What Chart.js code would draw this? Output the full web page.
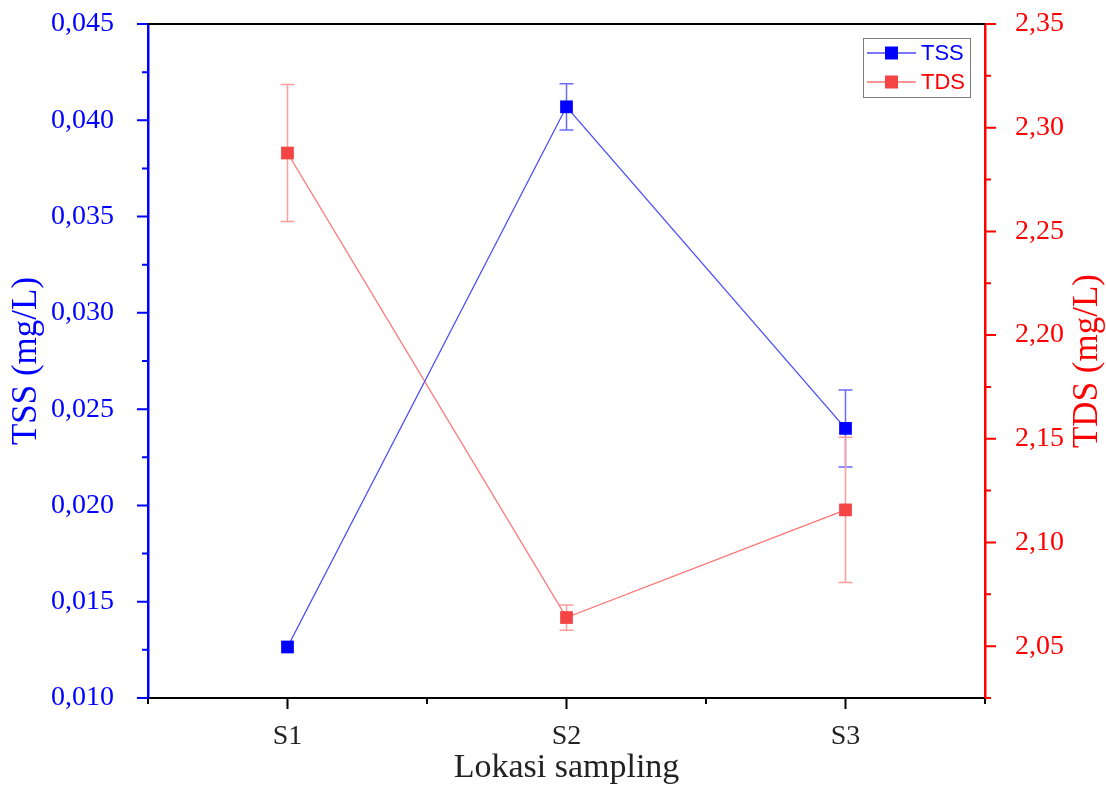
<!DOCTYPE html>
<html>
<head>
<meta charset="utf-8">
<script src="https://cdn.jsdelivr.net/npm/chart.js@4"></script>
<style>
  html, body { margin: 0; padding: 0; background: #fff; }
  #wrap { width: 1106px; height: 787px; position: relative; }
</style>
</head>
<body>
<div id="wrap"><canvas id="chart"></canvas></div>
<script>
const categories = ['S1', 'S2', 'S3'];
const tssValues = [0.01265, 0.0407, 0.0240];
const tssErrors = [0, 0.0012, 0.0020];
const tdsValues = [2.2878, 2.0638, 2.1157];
const tdsErrors = [0.033, 0.0061, 0.035];
const tssTicks = [0.010, 0.015, 0.020, 0.025, 0.030, 0.035, 0.040, 0.045];
const tdsTicks = [2.05, 2.10, 2.15, 2.20, 2.25, 2.30, 2.35];

const serif = "'Liberation Serif', 'Times New Roman', serif";
const sans = "'Liberation Sans', Arial, sans-serif";

const errorColors = { y: '#6b6bff', y1: '#ff9c9c' };

// error bars, drawn under the markers
const errorBars = {
    id: 'errorBars',
    beforeDatasetsDraw(chart) {
        const ctx = chart.ctx;
        const xs = chart.scales.x;
        chart.data.datasets.forEach(ds => {
            const ys = chart.scales[ds.yAxisID];
            ctx.save();
            ctx.strokeStyle = errorColors[ds.yAxisID];
            ctx.lineWidth = 1.5;
            ds.data.forEach((p, i) => {
                const e = ds.errors[i];
                if (!e) return;
                const x = xs.getPixelForValue(p.x);
                const top = ys.getPixelForValue(p.y + e);
                const bot = ys.getPixelForValue(p.y - e);
                ctx.beginPath();
                ctx.moveTo(x, top); ctx.lineTo(x, bot);
                ctx.moveTo(x - 7, top); ctx.lineTo(x + 7, top);
                ctx.moveTo(x - 7, bot); ctx.lineTo(x + 7, bot);
                ctx.stroke();
            });
            ctx.restore();
        });
    }
};

// tick marks (major + minor), top frame line, titles, legend
const frame = {
    id: 'frame',
    afterDraw(chart) {
        const ctx = chart.ctx;
        const area = chart.chartArea;
        const { x, y, y1 } = chart.scales;
        ctx.save();
        ctx.lineWidth = 2;

        // top border
        ctx.strokeStyle = '#000';
        ctx.beginPath();
        ctx.moveTo(area.left, area.top); ctx.lineTo(area.right, area.top);
        ctx.stroke();

        // x ticks
        ctx.beginPath();
        for (let v = 0.5; v <= 3.5; v += 0.5) {
            const px = x.getPixelForValue(v);
            const len = Number.isInteger(v) ? 11 : 6;
            ctx.moveTo(px, area.bottom); ctx.lineTo(px, area.bottom + len);
        }
        ctx.stroke();

        const yTicks = (scale, ticks, color, side) => {
            const step = ticks[1] - ticks[0];
            const edge = side === 'left' ? area.left : area.right;
            const dir = side === 'left' ? -1 : 1;
            ctx.strokeStyle = color;
            ctx.beginPath();
            ticks.forEach(t => {
                const py = scale.getPixelForValue(t);
                ctx.moveTo(edge, py); ctx.lineTo(edge + dir * 11, py);
                [t - step / 2, t + step / 2].forEach(m => {
                    if (m < scale.min - 1e-9 || m > scale.max + 1e-9) return;
                    const pm = scale.getPixelForValue(m);
                    ctx.moveTo(edge, pm); ctx.lineTo(edge + dir * 6, pm);
                });
            });
            ctx.stroke();
        };
        yTicks(y, tssTicks, '#0000ff', 'left');
        yTicks(y1, tdsTicks, '#ff0000', 'right');

        // axis titles (both y titles read bottom to top)
        const midY = (area.top + area.bottom) / 2;
        ctx.font = '35px ' + serif;
        ctx.textAlign = 'center';
        ctx.textBaseline = 'middle';
        [[27, '#0000ff', 'TSS (mg/L)'], [1088, '#ff0000', 'TDS (mg/L)']].forEach(([tx, col, txt]) => {
            ctx.save();
            ctx.translate(tx, midY);
            ctx.rotate(-Math.PI / 2);
            ctx.fillStyle = col;
            ctx.fillText(txt, 0, 0);
            ctx.restore();
        });
        ctx.fillStyle = '#222';
        ctx.font = '34px ' + serif;
        ctx.fillText('Lokasi sampling', (area.left + area.right) / 2, 768);

        // legend
        ctx.lineWidth = 1;
        ctx.strokeStyle = '#7a7a7a';
        ctx.strokeRect(863.5, 38.5, 107, 59);
        const rows = [53, 82];
        chart.data.datasets.forEach((ds, i) => {
            const ry = rows[i];
            ctx.strokeStyle = ds.borderColor;
            ctx.lineWidth = 1.3;
            ctx.beginPath();
            ctx.moveTo(867, ry); ctx.lineTo(916, ry);
            ctx.stroke();
            ctx.fillStyle = ds.pointBackgroundColor;
            ctx.fillRect(885, ry - 6.5, 13, 13);
            ctx.fillStyle = ds.legendText;
            ctx.font = '22px ' + sans;
            ctx.textAlign = 'left';
            ctx.textBaseline = 'middle';
            ctx.fillText(ds.label, 921, ry + 1);
        });
        ctx.restore();
    }
};

const tickFont = { family: serif, size: 28 };

const fitY = w => s => {
    s.width = w;
    s.paddingTop = 0;
    s.paddingBottom = 0;
};

new Chart(document.getElementById('chart').getContext('2d'), {
    type: 'line',
    data: {
        datasets: [{
            label: 'TSS',
            yAxisID: 'y',
            data: tssValues.map((v, i) => ({ x: i + 1, y: v })),
            errors: tssErrors,
            borderColor: '#4a4aff',
            borderWidth: 1.3,
            pointStyle: 'rect',
            pointRadius: 9,
            pointBorderWidth: 0,
            pointBackgroundColor: '#0000ff',
            legendText: '#0000ff'
        }, {
            label: 'TDS',
            yAxisID: 'y1',
            data: tdsValues.map((v, i) => ({ x: i + 1, y: v })),
            errors: tdsErrors,
            borderColor: '#ff7272',
            borderWidth: 1.3,
            pointStyle: 'rect',
            pointRadius: 9,
            pointBorderWidth: 0,
            pointBackgroundColor: '#f44444',
            legendText: '#ff0000'
        }]
    },
    options: {
        responsive: true,
        maintainAspectRatio: false,
        animation: false,
        layout: { padding: { top: 24, left: 0, right: 0, bottom: 0 } },
        plugins: {
            legend: { display: false },
            tooltip: { enabled: false }
        },
        scales: {
            x: {
                type: 'linear',
                min: 0.5,
                max: 3.5,
                afterBuildTicks: s => { s.ticks = categories.map((c, i) => ({ value: i + 1 })); },
                afterFit: s => { s.height = 89; },
                grid: { display: false },
                border: { display: true, color: '#000', width: 2 },
                ticks: {
                    color: '#222',
                    font: tickFont,
                    padding: 14,
                    maxRotation: 0,
                    autoSkip: false,
                    callback: (v, i) => categories[i]
                }
            },
            y: {
                position: 'left',
                min: 0.010,
                max: 0.045,
                afterBuildTicks: s => { s.ticks = tssTicks.map(v => ({ value: v })); },
                afterFit: fitY(148),
                grid: { display: false },
                border: { display: true, color: '#0000ff', width: 2.5 },
                ticks: {
                    color: '#0000ff',
                    font: tickFont,
                    padding: 26,
                    callback: v => v.toFixed(3).replace('.', ',')
                }
            },
            y1: {
                position: 'right',
                min: 2.025,
                max: 2.35,
                afterBuildTicks: s => { s.ticks = tdsTicks.map(v => ({ value: v })); },
                afterFit: fitY(121),
                grid: { display: false },
                border: { display: true, color: '#ff0000', width: 2.5 },
                ticks: {
                    color: '#ff0000',
                    font: tickFont,
                    padding: 22,
                    callback: v => v.toFixed(2).replace('.', ',')
                }
            }
        }
    },
    plugins: [errorBars, frame]
});
</script>
</body>
</html>
